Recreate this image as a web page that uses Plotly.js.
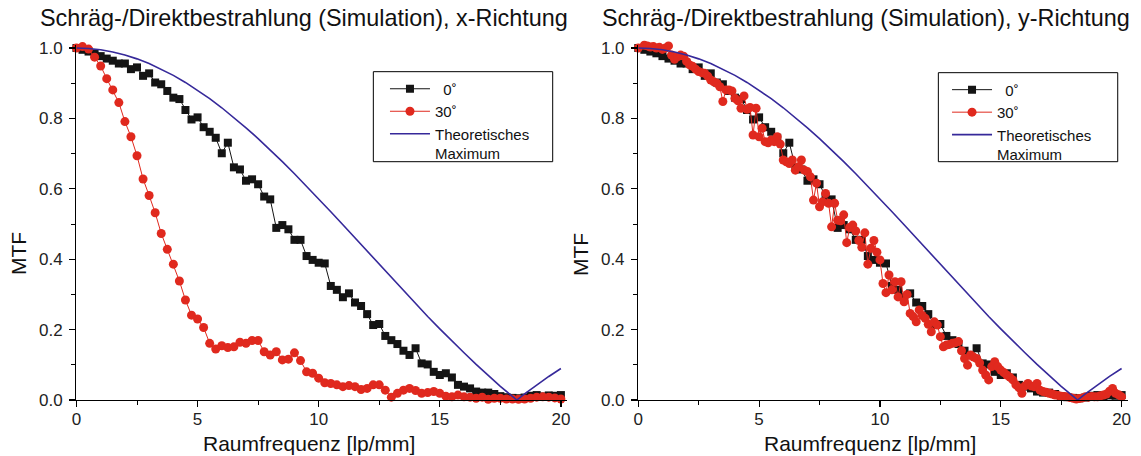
<!DOCTYPE html>
<html>
<head>
<meta charset="utf-8">
<script src="https://cdn.plot.ly/plotly-3.0.1.min.js"></script>
<style>html,body{margin:0;padding:0;background:#fff}#chart{width:1141px;height:456px}</style>
</head>
<body>
<div id="chart"></div>
<script>
// ---- data ----
// sampling grids (lp/mm)
const freqStep025 = Array.from({length: 81}, (_, i) => i * 0.25);
const freqStep0125 = Array.from({length: 161}, (_, i) => i * 0.125);

// 0 deg, identical in both directions
const mtf0deg = [
  1.000,0.995,0.990,0.985,0.977,0.970,0.964,0.956,0.956,0.940,
  0.945,0.921,0.928,0.902,0.897,0.878,0.859,0.855,0.824,0.797,
  0.803,0.775,0.762,0.745,0.701,0.731,0.661,0.655,0.623,0.627,
  0.613,0.578,0.570,0.489,0.497,0.485,0.455,0.455,0.409,0.398,
  0.390,0.388,0.324,0.313,0.292,0.303,0.277,0.267,0.244,0.213,
  0.216,0.182,0.170,0.159,0.140,0.128,0.147,0.104,0.101,0.080,
  0.071,0.076,0.064,0.043,0.038,0.033,0.024,0.021,0.021,0.017,
  0.011,0.008,0.006,0.005,0.007,0.012,0.014,0.010,0.013,0.012,
  0.014
];

// 30 deg, x direction
const mtf30degX = [
  1.000,1.004,0.997,0.974,0.949,0.913,0.881,0.845,0.791,0.748,
  0.694,0.628,0.581,0.532,0.473,0.428,0.386,0.338,0.284,0.241,
  0.230,0.206,0.161,0.145,0.154,0.149,0.151,0.164,0.161,0.169,
  0.169,0.137,0.128,0.137,0.114,0.116,0.134,0.112,0.080,0.076,
  0.062,0.049,0.047,0.043,0.038,0.041,0.038,0.030,0.033,0.043,
  0.043,0.028,0.008,0.019,0.028,0.033,0.027,0.019,0.021,0.024,
  0.019,0.011,0.009,0.014,0.009,0.008,0.005,0.008,0.002,0.005,
  0.005,0.003,0.003,0.002,0.003,0.005,0.008,0.009,0.008,0.006,
  0.003
];

// 30 deg, y direction (denser sampling)
const mtf30degY = [
  1.000,1.012,1.008,1.006,1.003,1.004,1.000,1.002,0.996,1.000,
  1.006,0.980,0.968,0.975,0.980,0.977,0.962,0.952,0.948,0.940,
  0.933,0.930,0.928,0.920,0.909,0.904,0.900,0.890,0.848,0.881,
  0.881,0.878,0.857,0.850,0.829,0.864,0.826,0.831,0.753,0.829,
  0.748,0.772,0.734,0.731,0.739,0.734,0.748,0.727,0.682,0.677,
  0.672,0.682,0.653,0.663,0.682,0.653,0.649,0.634,0.568,0.616,
  0.549,0.563,0.587,0.559,0.492,0.559,0.511,0.509,0.526,0.447,
  0.490,0.497,0.480,0.453,0.434,0.475,0.386,0.431,0.453,0.420,
  0.398,0.331,0.305,0.355,0.313,0.336,0.293,0.336,0.279,0.300,
  0.246,0.237,0.222,0.256,0.240,0.232,0.215,0.194,0.222,0.213,
  0.180,0.151,0.156,0.158,0.161,0.163,0.166,0.140,0.118,0.099,
  0.128,0.122,0.118,0.105,0.085,0.071,0.057,0.095,0.109,0.095,
  0.085,0.078,0.071,0.065,0.057,0.043,0.035,0.019,0.040,0.047,
  0.040,0.038,0.047,0.028,0.024,0.022,0.019,0.017,0.014,0.013,
  0.011,0.010,0.009,0.007,0.005,0.003,0.004,0.006,0.009,0.008,
  0.010,0.009,0.009,0.012,0.014,0.017,0.025,0.033,0.019,0.015,
  0.009
];

// theoretical maximum
const freqTheory = [0,0.5,1,1.5,2,2.5,3,3.5,4,4.5,5,5.5,6,6.5,7,7.5,8,8.5,9,9.5,10,
  10.5,11,11.5,12,12.5,13,13.5,14,14.5,15,15.5,16,16.5,17,17.5,18,18.18,18.5,19,19.5,20];
const mtfTheory = [1,0.9988,0.9950,0.9888,0.9802,0.9692,0.9558,0.9402,0.9223,0.9022,0.8802,
  0.8563,0.8303,0.8026,0.7733,0.7428,0.7106,0.6773,0.6430,0.6077,0.5716,
  0.5349,0.4977,0.4602,0.4226,0.3849,0.3473,0.3100,0.2734,0.2373,0.2022,
  0.1675,0.1344,0.1012,0.0693,0.0388,0.0101,0,0.0172,0.0429,0.0669,0.0894];

const NB = '\u00a0';
const legendNames = [NB + NB + '0\u02da', '30\u02da', 'Theoretisches<br>Maximum'];
const panelTitles = ['Schräg-/Direktbestrahlung (Simulation), x-Richtung',
                     'Schräg-/Direktbestrahlung (Simulation), y-Richtung'];
const xTitle = 'Raumfrequenz [lp/mm]';
const yTitle = 'MTF';

// ---- styling ----
const FONT = 'Liberation Sans, Arial, sans-serif';
const cBlack = '#141414', cRed = '#e0291e', cBlue = '#36299a';

function makeTraces(xa, ya, leg, redX, redY) {
  return [
    {x: freqStep025, y: mtf0deg, xaxis: xa, yaxis: ya, legend: leg, name: legendNames[0],
     mode: 'lines+markers', cliponaxis: false,
     line: {color: cBlack, width: 1}, marker: {symbol: 'square', size: 8, color: cBlack}},
    {x: redX, y: redY, xaxis: xa, yaxis: ya, legend: leg, name: legendNames[1],
     mode: 'lines+markers', cliponaxis: false,
     line: {color: cRed, width: 1}, marker: {symbol: 'circle', size: 9, color: cRed}},
    {x: freqTheory, y: mtfTheory, xaxis: xa, yaxis: ya, legend: leg, name: legendNames[2],
     mode: 'lines', cliponaxis: false, line: {color: cBlue, width: 1.6}}
  ];
}

const data = [].concat(
  makeTraces('x', 'y', 'legend', freqStep025, mtf30degX),
  makeTraces('x2', 'y2', 'legend2', freqStep0125, mtf30degY)
);

function xAxis(domain, anchor) {
  return {
    domain: domain, anchor: anchor, range: [0, 20.25], autorange: false,
    showgrid: false, zeroline: false, showline: true, linecolor: '#000', linewidth: 1.3,
    ticks: 'outside', ticklen: 6, tickwidth: 1.2, tickcolor: '#000', dtick: 5, tick0: 0,
    ticklabelstandoff: -3,
    minor: {dtick: 2.5, ticks: 'outside', ticklen: 4, tickwidth: 1, tickcolor: '#000'},
    tickfont: {family: FONT, size: 17, color: '#222'},
    automargin: false, fixedrange: true
  };
}
function yAxis(domain, anchor) {
  return {
    domain: domain, anchor: anchor, range: [0, 1.01], autorange: false,
    showgrid: false, zeroline: false, showline: true, linecolor: '#000', linewidth: 1.3,
    ticks: 'outside', ticklen: 6, tickwidth: 1.2, tickcolor: '#000', dtick: 0.2, tick0: 0,
    tickformat: '.1f', ticklabelstandoff: 3,
    minor: {dtick: 0.1, ticks: 'outside', ticklen: 4, tickwidth: 1, tickcolor: '#000'},
    tickfont: {family: FONT, size: 17, color: '#222'},
    automargin: false, fixedrange: true
  };
}

const yDom = [0.1228, 0.9024];
const legendCommon = {
  bgcolor: 'rgba(0,0,0,0)', borderwidth: 0, valign: 'top',
  font: {family: FONT, size: 15, color: '#111'}, itemwidth: 40,
  xanchor: 'left', yanchor: 'top', tracegroupgap: 0, itemclick: false, itemdoubleclick: false
};

function label(text, x, y, size, angle) {
  return {text: text, xref: 'paper', yref: 'paper', x: x, y: y,
          xanchor: 'center', yanchor: 'middle', showarrow: false, textangle: angle || 0,
          font: {family: FONT, size: size, color: '#111'}};
}

const layout = {
  width: 1141, height: 456,
  margin: {l: 0, r: 0, t: 0, b: 0},
  paper_bgcolor: '#fff', plot_bgcolor: '#fff',
  showlegend: true,
  xaxis: xAxis([0.0670, 0.4969], 'y'),
  yaxis: yAxis(yDom, 'x'),
  xaxis2: xAxis([0.5594, 0.9883], 'y2'),
  yaxis2: yAxis(yDom, 'x2'),
  legend: Object.assign({x: 0.3374, y: 0.841}, legendCommon),
  legend2: Object.assign({x: 0.8300, y: 0.839}, legendCommon),
  shapes: [
    {type: 'rect', xref: 'paper', yref: 'paper', x0: 0.3272, x1: 0.4844, y0: 0.6454, y1: 0.8428,
     line: {color: '#000', width: 1}, fillcolor: '#fff', layer: 'below'},
    {type: 'rect', xref: 'paper', yref: 'paper', x0: 0.8224, x1: 0.9796, y0: 0.6454, y1: 0.8406,
     line: {color: '#000', width: 1}, fillcolor: '#fff', layer: 'below'}
  ],
  annotations: [
    Object.assign(label(panelTitles[0], 0.0333, 0.9605, 23.4), {xanchor: 'left'}),
    Object.assign(label(panelTitles[1], 0.5259, 0.9605, 23.4), {xanchor: 'left'}),
    label(xTitle, 0.2708, 0.0285, 21),
    label(xTitle, 0.7625, 0.0285, 21),
    label(yTitle, 0.0167, 0.443, 21, -90),
    label(yTitle, 0.5092, 0.443, 21, -90)
  ]
};

Plotly.newPlot('chart', data, layout, {displayModeBar: false, staticPlot: true});
</script>
</body>
</html>
